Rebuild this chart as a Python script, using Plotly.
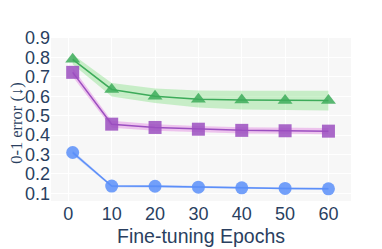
import plotly.graph_objects as go

epochs = [1, 10, 20, 30, 40, 50, 60]

green_mean = [0.79, 0.635, 0.600, 0.585, 0.580, 0.578, 0.578]
green_lo = [0.765, 0.598, 0.565, 0.542, 0.532, 0.528, 0.526]
green_hi = [0.815, 0.668, 0.640, 0.630, 0.628, 0.628, 0.628]

purple_mean = [0.723, 0.456, 0.439, 0.430, 0.424, 0.422, 0.420]
purple_lo = [0.700, 0.438, 0.422, 0.414, 0.408, 0.406, 0.404]
purple_hi = [0.745, 0.474, 0.456, 0.446, 0.440, 0.438, 0.436]

blue_mean = [0.31, 0.137, 0.136, 0.131, 0.128, 0.125, 0.123]
blue_lo = [0.300, 0.131, 0.130, 0.126, 0.123, 0.120, 0.118]
blue_hi = [0.320, 0.143, 0.142, 0.136, 0.133, 0.130, 0.128]

y_title = "0-1 error (↓)"
x_title = "Fine-tuning Epochs"

series = [
    (green_mean, green_lo, green_hi, "#3dab5a", "rgba(120,220,120,0.38)", "triangle-up"),
    (purple_mean, purple_lo, purple_hi, "#9b4fc0", "rgba(220,110,220,0.38)", "square"),
    (blue_mean, blue_lo, blue_hi, "#5b8ff9", "rgba(100,140,250,0.38)", "circle"),
]

fig = go.Figure()
for mean, lo, hi, col, fill, sym in series:
    fig.add_trace(go.Scatter(x=epochs, y=hi, mode="lines", line=dict(width=0),
                             showlegend=False, hoverinfo="skip"))
    fig.add_trace(go.Scatter(x=epochs, y=lo, mode="lines", line=dict(width=0),
                             fill="tonexty", fillcolor=fill, showlegend=False, hoverinfo="skip"))
    fig.add_trace(go.Scatter(x=epochs, y=mean, mode="lines+markers",
                             line=dict(color=col, width=1.5),
                             marker=dict(symbol=sym, size=13, color=col, opacity=0.85),
                             showlegend=False))

# page body has an 8px margin, so the figure is sized to the visible area
fig.update_layout(
    width=374, height=241,
    margin=dict(l=43, r=31, t=30, b=48, autoexpand=False),
    plot_bgcolor="#f7f7f7",
    paper_bgcolor="white",
    font=dict(family="Liberation Sans, Arial, sans-serif", size=18, color="#2a3f5f"),
    xaxis=dict(range=[-4, 65.2], tickvals=[0, 10, 20, 30, 40, 50, 60], automargin=False,
               gridcolor="white", zeroline=False, showline=False,
               title=dict(text=x_title, font=dict(size=19.5), standoff=6),
               ticks="", tickfont=dict(size=18)),
    yaxis=dict(range=[0.06, 0.9], tickvals=[0.1, 0.2, 0.3, 0.4, 0.5, 0.6, 0.7, 0.8, 0.9],
               tickformat=".1f", gridcolor="white", zeroline=False, showline=False, automargin=False,
               ticks="", tickfont=dict(size=18)),
    annotations=[dict(text=y_title, xref="paper", yref="paper", x=-0.113, y=0.48,
                      xanchor="center", yanchor="middle", textangle=-90, showarrow=False,
                      borderpad=0,
                      font=dict(family="Liberation Serif", size=16.5, color="#2a3f5f"))],
)

fig.write_html("out.html")
